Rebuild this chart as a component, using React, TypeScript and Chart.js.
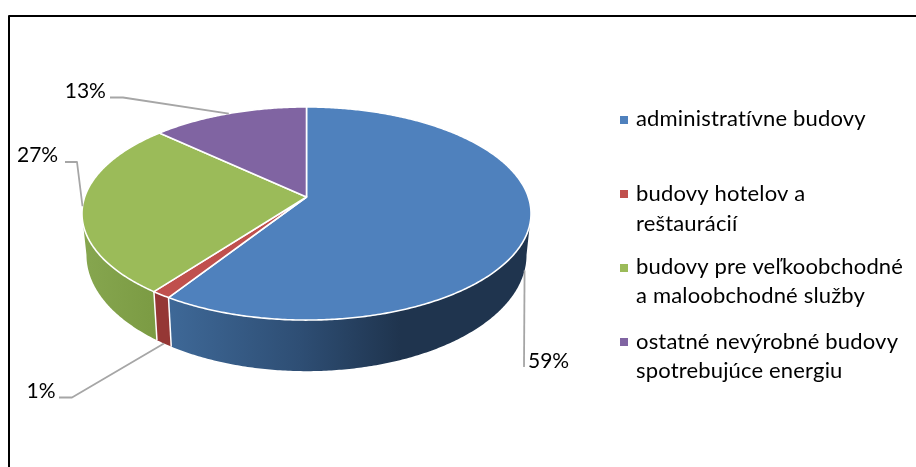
import React, { useEffect, useRef } from "react";
import { Chart, registerables } from "chart.js";

Chart.register(...registerables);

const categories = [
  "administratívne budovy",
  "budovy hotelov a reštaurácií",
  "budovy pre veľkoobchodné a maloobchodné služby",
  "ostatné nevýrobné budovy spotrebujúce energiu",
];
const shares = [59.1, 1.2, 26.6, 13.1];
const faceColors = ["#4f81bd", "#c0504d", "#9bbb59", "#8064a2"];
const wallStops: [number, string][][] = [
  [[170, "#3e6897"], [300, "#2e4e74"], [400, "#1f344e"], [530, "#1f344e"]],
  [[155, "#953735"], [170, "#953735"]],
  [[83, "#86a64f"], [157, "#7b9b43"]],
  [[83, "#8064a2"], [157, "#8064a2"]],
];
const legendLines = [
  ["administratívne budovy"],
  ["budovy hotelov a", "reštaurácií"],
  ["budovy pre veľkoobchodné", "a maloobchodné služby"],
  ["ostatné nevýrobné budovy", "spotrebujúce energiu"],
];

// layout
const VALUE_FONT = '21px Lato, sans-serif';
const LEGEND_FONT = '22px Lato, sans-serif';
const legendSwatchY = [116, 190, 264, 338];
const legendBaselines = [[126], [201, 230.5], [274, 303], [348.7, 377.7]];
const valueLabelPos = [[528, 367.7], [26.5, 397.7], [17, 162], [64.7, 98]];
const leaderElbows: number[][][] = [
  [[524, 367]],
  [[59, 397.5], [72, 397.5]],
  [[65, 162], [77, 162]],
  [[110, 97.5], [123, 97.5]],
];
const leaderFromBase = [true, true, false, false];
const V = { x: 306.5, y: 197 };
const P = { R: 221.8, S: 104, k: 0.155, baseScaleX: 0.98, baseScaleY: 1.09, baseDrop: 40 };

const top = (a: number) => {
  const c = Math.cos(a), s = Math.sin(a), w = 1 - P.k * s;
  return { x: V.x + (P.R * c) / w, y: V.y + (P.S * s) / w };
};
const base = (a: number) => {
  const c = Math.cos(a), s = Math.sin(a), w = 1 - P.k * s;
  return {
    x: V.x + (P.baseScaleX * P.R * c) / w,
    y: V.y + P.baseDrop + (P.baseScaleY * P.S * s) / w,
  };
};
const samples = (a0: number, a1: number) => {
  const n = Math.max(2, Math.ceil((a1 - a0) / 0.01));
  return Array.from({ length: n + 1 }, (_, i) => a0 + ((a1 - a0) * i) / n);
};

const pie3d = {
  id: "pie3d",
  beforeDatasetsDraw(chart: any) {
    const ctx: CanvasRenderingContext2D = chart.ctx;
    const arcs = chart.getDatasetMeta(0).data;
    const visFrom = Math.asin(P.k);
    const visTo = Math.PI - visFrom;
    ctx.save();
    ctx.lineJoin = "round";
    // side walls
    arcs.forEach((arc: any, i: number) => {
      const a0 = Math.max(arc.startAngle, visFrom);
      const a1 = Math.min(arc.endAngle, visTo);
      if (a1 <= a0) return;
      const xs = wallStops[i];
      const g = ctx.createLinearGradient(xs[0][0], 0, xs[xs.length - 1][0], 0);
      xs.forEach(([x, col]) => g.addColorStop((x - xs[0][0]) / (xs[xs.length - 1][0] - xs[0][0]), col));
      const pts = samples(a0, a1);
      ctx.beginPath();
      pts.forEach((a, j) => {
        const p = top(a);
        j ? ctx.lineTo(p.x, p.y) : ctx.moveTo(p.x, p.y);
      });
      pts.slice().reverse().forEach((a) => {
        const p = base(a);
        ctx.lineTo(p.x, p.y);
      });
      ctx.closePath();
      ctx.fillStyle = g;
      ctx.fill();
    });
    // white edges between walls
    ctx.strokeStyle = "#ffffff";
    ctx.lineWidth = 1.5;
    arcs.forEach((arc: any) => {
      const a = arc.endAngle;
      if (a <= visFrom || a >= visTo) return;
      const p = top(a), q = base(a);
      ctx.beginPath();
      ctx.moveTo(p.x, p.y);
      ctx.lineTo(q.x, q.y);
      ctx.stroke();
    });
    // top faces
    arcs.forEach((arc: any, i: number) => {
      ctx.beginPath();
      ctx.moveTo(V.x, V.y);
      samples(arc.startAngle, arc.endAngle).forEach((a) => {
        const p = top(a);
        ctx.lineTo(p.x, p.y);
      });
      ctx.closePath();
      ctx.fillStyle = faceColors[i];
      ctx.fill();
      ctx.lineWidth = 1.6;
      ctx.strokeStyle = "#ffffff";
      ctx.stroke();
    });
    // leader lines and value labels
    ctx.strokeStyle = "#a6a6a6";
    ctx.lineWidth = 1.8;
    arcs.forEach((arc: any, i: number) => {
      const mid = (arc.startAngle + arc.endAngle) / 2;
      const end = leaderFromBase[i] ? base(mid) : top(mid);
      ctx.beginPath();
      leaderElbows[i].forEach(([x, y], j) => (j ? ctx.lineTo(x, y) : ctx.moveTo(x, y)));
      ctx.lineTo(end.x, end.y);
      ctx.stroke();
    });
    ctx.fillStyle = "#000000";
    ctx.font = VALUE_FONT;
    ctx.textBaseline = "alphabetic";
    ctx.textAlign = "left";
    shares.forEach((v, i) => {
      ctx.fillText(`${Math.round(v)}%`, valueLabelPos[i][0], valueLabelPos[i][1]);
    });
    // legend
    ctx.font = LEGEND_FONT;
    (ctx as any).letterSpacing = "0.17px";
    categories.forEach((_, i) => {
      ctx.fillStyle = faceColors[i];
      ctx.fillRect(620, legendSwatchY[i], 8, 8);
      ctx.fillStyle = "#000000";
      legendLines[i].forEach((line, j) => ctx.fillText(line, 636, legendBaselines[i][j]));
    });
    // frame
    ctx.strokeStyle = "#000000";
    ctx.lineWidth = 2;
    ctx.lineCap = "butt";
    ctx.beginPath();
    ctx.moveTo(9, 467);
    ctx.lineTo(9, 16);
    ctx.lineTo(916, 16);
    ctx.stroke();
    ctx.restore();
    return false;
  },
};

export default function App() {
  const ref = useRef<HTMLCanvasElement>(null);
  useEffect(() => {
    const chart = new Chart(ref.current!, {
      type: "pie",
      data: {
        labels: categories,
        datasets: [{ data: shares, backgroundColor: faceColors, borderColor: "#ffffff" }],
      },
      options: {
        responsive: false,
        animation: false,
        plugins: { legend: { display: false }, tooltip: { enabled: false } },
      },
      plugins: [pie3d],
    } as any);
    return () => chart.destroy();
  }, []);
  return (
    <div style={{ position: "absolute", left: 0, top: 0, width: 916, height: 467, background: "#fff" }}>
      <canvas ref={ref} width={916} height={467} style={{ display: "block" }} />
    </div>
  );
}
